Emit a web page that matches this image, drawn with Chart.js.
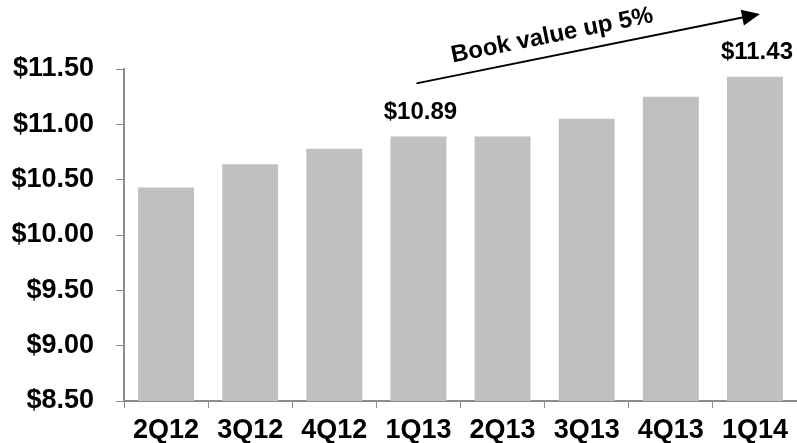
<!DOCTYPE html>
<html>
<head>
<meta charset="utf-8">
<script src="https://cdn.jsdelivr.net/npm/chart.js@4.4.1/dist/chart.umd.min.js"></script>
<style>
  html, body { margin: 0; padding: 0; background: #fff; }
  #wrap { width: 797px; height: 443px; position: relative; }
</style>
</head>
<body>
<div id="wrap"><canvas id="barChart"></canvas></div>
<script>
// book value per share by quarter
const quarters = ['2Q12', '3Q12', '4Q12', '1Q13', '2Q13', '3Q13', '4Q13', '1Q14'];
const bookValues = [10.43, 10.64, 10.78, 10.89, 10.89, 11.05, 11.25, 11.43];
const labelledBars = [3, 7];
const yTicks = [8.5, 9.0, 9.5, 10.0, 10.5, 11.0, 11.5];
const arrowText = 'Book value up 5%';

const fontFamily = "'Liberation Sans', Arial, sans-serif";
const axisGrey = '#8c8c8c';

const annotations = {
    id: 'annotations',
    afterDatasetsDraw(chart) {
        const ctx = chart.ctx;
        const x = chart.scales.x;
        const y = chart.scales.y;
        ctx.save();
        ctx.fillStyle = '#000';
        ctx.textAlign = 'center';
        ctx.textBaseline = 'middle';
        ctx.font = 'bold 24px ' + fontFamily;
        labelledBars.forEach(i => {
            ctx.fillText('$' + bookValues[i].toFixed(2), x.getPixelForValue(i) + 2, y.getPixelForValue(bookValues[i]) - 24);
        });

        // arrow from 1Q13 to 1Q14
        const x0 = x.getPixelForValue(labelledBars[0]) - 2;
        const y0 = y.getPixelForValue(11.37);
        const x1 = x.getPixelForValue(labelledBars[1]) + 5;
        const y1 = chart.chartArea.top - 55;
        const ang = Math.atan2(y1 - y0, x1 - x0);
        ctx.strokeStyle = '#000';
        ctx.lineWidth = 2;
        ctx.beginPath();
        ctx.moveTo(x0, y0);
        ctx.lineTo(x1 - 14 * Math.cos(ang), y1 - 14 * Math.sin(ang));
        ctx.stroke();
        ctx.beginPath();
        ctx.moveTo(x1, y1);
        ctx.lineTo(x1 - 18 * Math.cos(ang) + 8 * Math.sin(ang), y1 - 18 * Math.sin(ang) - 8 * Math.cos(ang));
        ctx.lineTo(x1 - 18 * Math.cos(ang) - 8 * Math.sin(ang), y1 - 18 * Math.sin(ang) + 8 * Math.cos(ang));
        ctx.closePath();
        ctx.fill();

        ctx.translate((x0 + x1) / 2 - 36, (y0 + y1) / 2 - 13);
        ctx.rotate(ang);
        ctx.font = 'bold 24px ' + fontFamily;
        ctx.fillText(arrowText, 0, 0);
        ctx.restore();
    }
};

new Chart(document.getElementById('barChart'), {
    type: 'bar',
    data: {
        labels: quarters,
        datasets: [
            {
                label: 'Book value',
                backgroundColor: '#c0c0c0',
                data: bookValues,
                barPercentage: 0.665,
                categoryPercentage: 1.0
            }
        ]
    },
    options: {
        responsive: true,
        maintainAspectRatio: false,
        animation: false,
        layout: { padding: { top: 69, left: 0, right: 0, bottom: 0 } },
        plugins: {
            legend: { display: false },
            title: { display: false },
            tooltip: { enabled: false }
        },
        scales: {
            x: {
                grid: { display: true, drawOnChartArea: false, drawTicks: true, tickLength: 7, color: axisGrey, lineWidth: 1, offset: true },
                border: { display: true, color: axisGrey, width: 2 },
                ticks: { color: '#000', font: { family: fontFamily, size: 27, weight: 'bold' }, padding: 6, maxRotation: 0 },
                afterFit(scale) { scale.height = 42; }
            },
            y: {
                min: yTicks[0],
                max: yTicks[yTicks.length - 1],
                afterBuildTicks(scale) { scale.ticks = yTicks.map(v => ({ value: v })); },
                grid: { display: true, drawOnChartArea: false, drawTicks: true, tickLength: 8, color: axisGrey, lineWidth: 1 },
                border: { display: true, color: axisGrey, width: 2 },
                ticks: {
                    color: '#000',
                    font: { family: fontFamily, size: 27, weight: 'bold' },
                    padding: 22,
                    callback: v => '$' + Number(v).toFixed(2)
                },
                afterFit(scale) { scale.width = 124; }
            }
        }
    },
    plugins: [annotations]
});
</script>
</body>
</html>
